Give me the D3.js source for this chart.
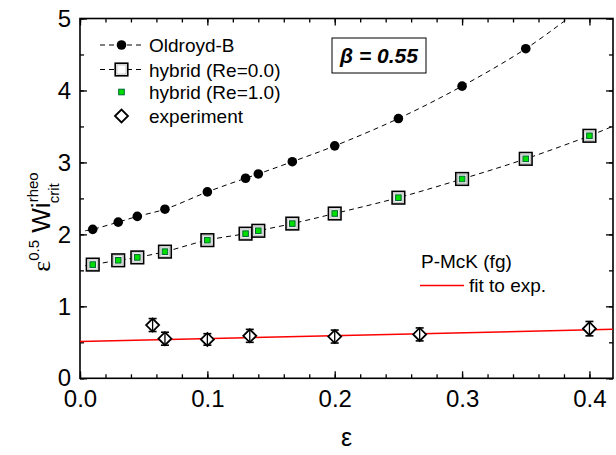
<!DOCTYPE html>
<html><head><meta charset="utf-8">
<script src="https://cdn.jsdelivr.net/npm/d3@7"></script>
<style>
html,body{margin:0;padding:0;background:#fff;}
svg text{font-family:"Liberation Sans",Arial,sans-serif;}
</style></head>
<body><svg id="c" width="616" height="455"></svg>
<script>
// ---- data ----
const epsModel = [0.01, 0.03, 0.045, 0.0667, 0.1, 0.13, 0.14, 0.1667, 0.2, 0.25, 0.3, 0.35, 0.4];
const oldroydB = [2.07, 2.17, 2.25, 2.35, 2.59, 2.78, 2.84, 3.01, 3.23, 3.61, 4.06, 4.58, null];
const hybridRe0 = [1.58, 1.64, 1.68, 1.76, 1.92, 2.01, 2.05, 2.15, 2.29, 2.51, 2.77, 3.05, 3.37];
const hybridRe1 = [1.58, 1.64, 1.68, 1.76, 1.92, 2.01, 2.05, 2.15, 2.29, 2.51, 2.77, 3.05, 3.37];
const oldroydFitEnd = [0.383, 5.0];
const hybridFitEnd = [0.418, 3.5];
const expEps = [0.057, 0.0667, 0.1, 0.1333, 0.2, 0.2667, 0.4];
const expVal = [0.74, 0.55, 0.54, 0.59, 0.58, 0.61, 0.69];
const expErr = [0.09, 0.09, 0.08, 0.09, 0.09, 0.09, 0.10];
const fitEps = [0, 0.4185];
const fitVal = [0.51, 0.68];
const xTicks = [0.0, 0.1, 0.2, 0.3, 0.4];
const yTicks = [0, 1, 2, 3, 4, 5];
const legendLabels = ["Oldroyd-B", "hybrid (Re=0.0)", "hybrid (Re=1.0)", "experiment"];

// ---- chart ----
const svg = d3.select("#c");
const x = d3.scaleLinear().domain([0, 0.4185]).range([80, 613]);
const y = d3.scaleLinear().domain([0, 5]).range([378.3, 18.5]);
const X0 = x.range()[0], X1 = x.range()[1], Y0 = y.range()[0], Y1 = y.range()[1];

svg.append("defs").append("clipPath").attr("id","pc")
  .append("rect").attr("x",X0).attr("y",Y1).attr("width",X1-X0).attr("height",Y0-Y1);

const xMinor = d3.range(0, 0.419, 0.02);
const yMinor = d3.range(0, 5.01, 0.5);
const fmtX = d3.format(".1f");
function styleAxis(g){ g.select(".domain").remove(); g.selectAll("line").attr("stroke","#000").attr("stroke-width",1.3); g.selectAll("text").attr("font-size",24).attr("fill","#000").attr("font-family","Liberation Sans, Arial, sans-serif"); }
// minor ticks
svg.append("g").attr("transform",`translate(0,${Y0})`).call(d3.axisBottom(x).tickValues(xMinor).tickSize(-4).tickFormat("")).call(styleAxis);
svg.append("g").attr("transform",`translate(0,${Y1})`).call(d3.axisTop(x).tickValues(xMinor).tickSize(-4).tickFormat("")).call(styleAxis);
svg.append("g").attr("transform",`translate(${X0},0)`).call(d3.axisLeft(y).tickValues(yMinor).tickSize(-4).tickFormat("")).call(styleAxis);
svg.append("g").attr("transform",`translate(${X1},0)`).call(d3.axisRight(y).tickValues(yMinor).tickSize(-4).tickFormat("")).call(styleAxis);
// major
svg.append("g").attr("transform",`translate(0,${Y0})`).call(d3.axisBottom(x).tickValues(xTicks).tickSize(-7).tickPadding(12).tickFormat(fmtX)).call(styleAxis);
svg.append("g").attr("transform",`translate(0,${Y1})`).call(d3.axisTop(x).tickValues(xTicks).tickSize(-7).tickFormat("")).call(styleAxis);
svg.append("g").attr("transform",`translate(${X0},0)`).call(d3.axisLeft(y).tickValues(yTicks).tickSize(-7).tickPadding(9).tickFormat(d3.format("d"))).call(styleAxis);
svg.append("g").attr("transform",`translate(${X1},0)`).call(d3.axisRight(y).tickValues(yTicks).tickSize(-7).tickFormat("")).call(styleAxis);
svg.append("rect").attr("x",X0).attr("y",Y1).attr("width",X1-X0).attr("height",Y0-Y1).attr("fill","none").attr("stroke","#000").attr("stroke-width",1.6);

const plot = svg.append("g").attr("clip-path","url(#pc)");
const lineGen = d3.line().x(d=>x(d[0])).y(d=>y(d[1])).curve(d3.curveCatmullRom);
const oPts = epsModel.map((e,i)=>[e, oldroydB[i]]).filter(d=>d[1]!==null);
const hPts = epsModel.map((e,i)=>[e, hybridRe0[i]]);
plot.append("path").attr("d", lineGen([[0.004, 2.05], ...oPts, oldroydFitEnd])).attr("fill","none").attr("stroke","#000").attr("stroke-width",1).attr("stroke-dasharray","5,4");
plot.append("path").attr("d", lineGen([[0.004, 1.565], ...hPts, hybridFitEnd])).attr("fill","none").attr("stroke","#000").attr("stroke-width",1).attr("stroke-dasharray","5,4");
// red fit
plot.append("path").attr("d", d3.line().x(d=>x(d[0])).y(d=>y(d[1]))(fitEps.map((e,i)=>[e, fitVal[i]]))).attr("fill","none").attr("stroke","#ff0000").attr("stroke-width",1.5);

// markers
function drawCircle(g, cx, cy){ g.append("circle").attr("cx",cx).attr("cy",cy).attr("r",4.8).attr("fill","#000"); }
function drawOpenSq(g, cx, cy){ g.append("rect").attr("x",cx-6.3).attr("y",cy-6.3).attr("width",12.6).attr("height",12.6).attr("fill","#fff").attr("stroke","#000").attr("stroke-width",1.6);
  g.append("rect").attr("x",cx-4.6).attr("y",cy-4.6).attr("width",9.2).attr("height",9.2).attr("fill","none").attr("stroke","#bbb").attr("stroke-width",1); }
function drawGreenSq(g, cx, cy){ g.append("rect").attr("x",cx-2.8).attr("y",cy-2.8).attr("width",5.6).attr("height",5.6).attr("fill","#00e000").attr("stroke","#063").attr("stroke-width",1); }
function drawDiamond(g, cx, cy){ g.append("path").attr("d",`M${cx-6.5},${cy}L${cx},${cy-6.5}L${cx+6.5},${cy}L${cx},${cy+6.5}Z`).attr("fill","#fff").attr("stroke","#000").attr("stroke-width",1.8); }

const mk = svg.append("g");
oPts.forEach(d=>drawCircle(mk, x(d[0]), y(d[1])));
hPts.forEach(d=>drawOpenSq(mk, x(d[0]), y(d[1])));
epsModel.forEach((e,i)=>drawGreenSq(mk, x(e), y(hybridRe1[i])));
expEps.forEach((e,i)=>{
  const cx = x(e), yl = y(expVal[i]-expErr[i]), yh = y(expVal[i]+expErr[i]);
  drawDiamond(mk, cx, y(expVal[i]));
  mk.append("line").attr("x1",cx).attr("x2",cx).attr("y1",yl).attr("y2",yh).attr("stroke","#000").attr("stroke-width",1.3);
  [yl,yh].forEach(yy=>mk.append("line").attr("x1",cx-4).attr("x2",cx+4).attr("y1",yy).attr("y2",yy).attr("stroke","#000").attr("stroke-width",1.6));
});

// legend
const lg = svg.append("g");
const rows = [45, 69.5, 92, 116];
const lx0 = 100, lx1 = 142, lmx = 121.5, ltx = 149;
[0,1].forEach(i=>lg.append("line").attr("x1",lx0).attr("x2",lx1).attr("y1",rows[i]).attr("y2",rows[i]).attr("stroke","#000").attr("stroke-width",1).attr("stroke-dasharray","5,4"));
drawCircle(lg, lmx, rows[0]);
drawOpenSq(lg, lmx, rows[1]);
drawGreenSq(lg, lmx, rows[2]);
drawDiamond(lg, lmx, rows[3]);
legendLabels.forEach((t,i)=>lg.append("text").attr("x",ltx).attr("y",rows[i]+7).attr("font-size",19).text(t));

// beta box
svg.append("rect").attr("x",332).attr("y",38).attr("width",94).attr("height",35).attr("fill","#fff").attr("stroke","#000").attr("stroke-width",1);
svg.append("text").attr("x",379).attr("y",63).attr("text-anchor","middle").attr("font-size",21).attr("font-weight","bold").attr("font-style","italic").text("β = 0.55");

// P-McK legend
svg.append("text").attr("x",421).attr("y",268).attr("font-size",19).text("P-McK (fg)");
svg.append("line").attr("x1",420).attr("x2",464).attr("y1",285.5).attr("y2",285.5).attr("stroke","#ff0000").attr("stroke-width",1.5);
svg.append("text").attr("x",469).attr("y",292).attr("font-size",19).text("fit to exp.");

// axis titles
svg.append("text").attr("x",(X0+X1)/2).attr("y",446).attr("text-anchor","middle").attr("font-family","Liberation Serif, Times New Roman, serif").attr("font-size",25).text("ε");
const yt = svg.append("text").attr("transform","translate(50,222) rotate(-90)").attr("text-anchor","middle").attr("font-size",26);
yt.append("tspan").attr("font-family","Liberation Serif, Times New Roman, serif").text("ε");
yt.append("tspan").attr("font-size",15).attr("dy",-11).text("0.5");
yt.append("tspan").attr("dy",11).text(" Wi");
yt.append("tspan").attr("font-size",15).attr("dy",-12).text("rheo");
yt.append("tspan").attr("font-size",15).attr("dx",-31).attr("dy",21).text("crit");
</script></body></html>
